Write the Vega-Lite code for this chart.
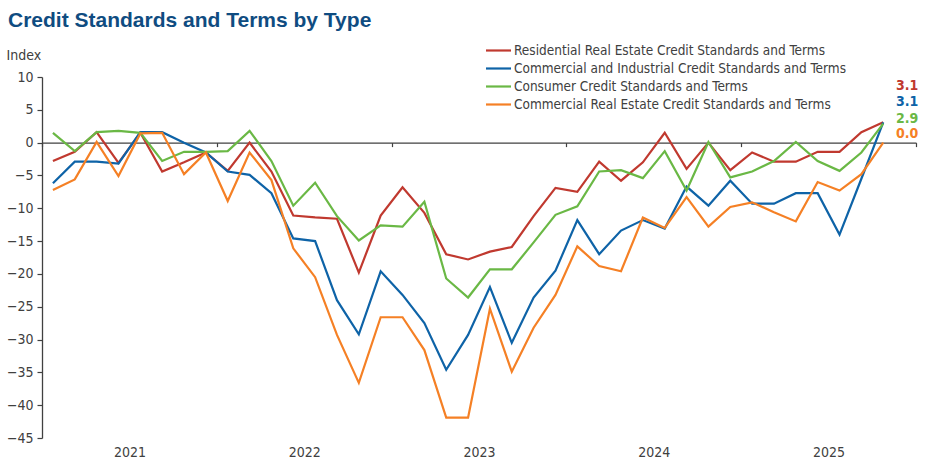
{
  "$schema": "https://vega.github.io/schema/vega-lite/v6.json",
  "autosize": {"type": "none"},
  "width": 874,
  "height": 361,
  "padding": {"left": 42, "top": 77, "right": 25, "bottom": 31},
  "background": "white",
  "config": {
    "font": "Liberation Sans Narrow, DejaVu Sans Condensed, Liberation Sans, sans-serif",
    "view": {"stroke": null}
  },
  "title": {
    "text": "Credit Standards and Terms by Type",
    "anchor": "start",
    "frame": "group",
    "dx": -34,
    "dy": -4,
    "fontSize": 21,
    "fontWeight": "bold",
    "color": "#0F4C81",
    "font": "Liberation Sans Narrow, Liberation Sans, sans-serif"
  },
  "data": {
    "values": [
      {"p": 0, "R": -2.8, "C": -6.2, "N": 1.5, "E": -7.2},
      {"p": 1, "R": -1.4, "C": -2.9, "N": -1.3, "E": -5.6},
      {"p": 2, "R": 1.6, "C": -2.9, "N": 1.6, "E": 0.1},
      {"p": 3, "R": -3.1, "C": -3.2, "N": 1.8, "E": -5.1},
      {"p": 4, "R": 1.5, "C": 1.6, "N": 1.5, "E": 1.4},
      {"p": 5, "R": -4.4, "C": 1.6, "N": -2.8, "E": 1.5},
      {"p": 6, "R": -3.0, "C": 0.0, "N": -1.4, "E": -4.8},
      {"p": 7, "R": -1.5, "C": -1.5, "N": -1.4, "E": -1.5},
      {"p": 8, "R": -4.3, "C": -4.4, "N": -1.3, "E": -8.9},
      {"p": 9, "R": 0.0, "C": -4.9, "N": 1.8, "E": -1.5},
      {"p": 10, "R": -4.4, "C": -7.7, "N": -2.8, "E": -5.7},
      {"p": 11, "R": -11.1, "C": -14.6, "N": -9.6, "E": -16.1},
      {"p": 12, "R": -11.4, "C": -15.0, "N": -6.1, "E": -20.5},
      {"p": 13, "R": -11.6, "C": -24.0, "N": -11.2, "E": -29.3},
      {"p": 14, "R": -19.8, "C": -29.2, "N": -14.9, "E": -36.6},
      {"p": 15, "R": -11.1, "C": -19.6, "N": -12.6, "E": -26.6},
      {"p": 16, "R": -6.8, "C": -23.2, "N": -12.8, "E": -26.6},
      {"p": 17, "R": -10.7, "C": -27.5, "N": -9.0, "E": -31.6},
      {"p": 18, "R": -17.0, "C": -34.6, "N": -20.7, "E": -41.9},
      {"p": 19, "R": -17.8, "C": -29.3, "N": -23.6, "E": -41.9},
      {"p": 20, "R": -16.6, "C": -22.0, "N": -19.3, "E": -25.3},
      {"p": 21, "R": -15.9, "C": -30.5, "N": -19.3, "E": -34.9},
      {"p": 22, "R": -11.2, "C": -23.6, "N": -15.2, "E": -28.2},
      {"p": 23, "R": -6.9, "C": -19.5, "N": -11.0, "E": -23.2},
      {"p": 24, "R": -7.5, "C": -11.8, "N": -9.7, "E": -15.8},
      {"p": 25, "R": -2.9, "C": -17.0, "N": -4.4, "E": -18.8},
      {"p": 26, "R": -5.8, "C": -13.4, "N": -4.2, "E": -19.6},
      {"p": 27, "R": -3.0, "C": -11.8, "N": -5.4, "E": -11.4},
      {"p": 28, "R": 1.5, "C": -13.1, "N": -1.3, "E": -13.0},
      {"p": 29, "R": -4.0, "C": -6.7, "N": -7.3, "E": -8.3},
      {"p": 30, "R": 0.0, "C": -9.6, "N": 0.1, "E": -12.8},
      {"p": 31, "R": -4.2, "C": -5.8, "N": -5.3, "E": -9.8},
      {"p": 32, "R": -1.5, "C": -9.3, "N": -4.4, "E": -9.1},
      {"p": 33, "R": -2.9, "C": -9.3, "N": -2.8, "E": -10.6},
      {"p": 34, "R": -2.9, "C": -7.7, "N": 0.1, "E": -12.0},
      {"p": 35, "R": -1.4, "C": -7.7, "N": -2.8, "E": -6.0},
      {"p": 36, "R": -1.4, "C": -14.0, "N": -4.3, "E": -7.3},
      {"p": 37, "R": 1.6, "C": -5.5, "N": -1.5, "E": -4.8},
      {"p": 38, "R": 3.1, "C": 3.1, "N": 2.9, "E": 0.0}
    ]
  },
  "transform": [{"fold": ["R", "C", "N", "E"], "as": ["s", "v"]}],
  "resolve": {"axis": {"x": "independent", "y": "independent"}},
  "layer": [
    {
      "mark": {"type": "line", "strokeWidth": 2.2, "strokeJoin": "miter"},
      "encoding": {
        "x": {
          "field": "p",
          "type": "quantitative",
          "scale": {"domain": [-0.5, 39.5], "nice": false, "zero": false},
          "axis": {
            "orient": "bottom",
            "offset": -295.4,
            "values": [-0.5, 7.5, 15.5, 23.5, 31.5, 39.5],
            "labels": false,
            "title": null,
            "grid": false,
            "domainColor": "#404040",
            "domainWidth": 1.3,
            "tickColor": "#404040",
            "tickSize": 4,
            "tickWidth": 1.2
          }
        },
        "y": {
          "field": "v",
          "type": "quantitative",
          "scale": {"domain": [-45, 10], "nice": false},
          "axis": {
            "orient": "left",
            "values": [10, 5, 0, -5, -10, -15, -20, -25, -30, -35, -40, -45],
            "labelOverlap": false,
            "grid": false,
            "title": "Index",
            "titleAngle": 0,
            "titleAlign": "left",
            "titleBaseline": "middle",
            "titleX": -36,
            "titleY": -22,
            "titleFontSize": 14,
            "titleFontWeight": "normal",
            "titleColor": "#404040",
            "labelFontSize": 14,
            "labelColor": "#404040",
            "labelPadding": 4,
            "domainColor": "#404040",
            "domainWidth": 1.3,
            "tickColor": "#404040",
            "tickSize": 5,
            "tickWidth": 1.2
          }
        },
        "color": {
          "field": "s",
          "type": "nominal",
          "scale": {
            "domain": ["R", "C", "N", "E"],
            "range": ["#C0392F", "#0E63A7", "#6AB845", "#F58025"]
          },
          "legend": {
            "title": null,
            "orient": "none",
            "legendX": 445,
            "legendY": -38,
            "symbolType": "M-1.25,0H1.25",
            "symbolSize": 400,
            "symbolStrokeWidth": 2.2,
            "labelFontSize": 13.5,
            "labelColor": "#404040",
            "labelOffset": 4,
            "rowPadding": 0,
            "labelLimit": 600,
            "labelExpr": "datum.label == 'R' ? 'Residential Real Estate Credit Standards and Terms' : datum.label == 'C' ? 'Commercial and Industrial Credit Standards and Terms' : datum.label == 'N' ? 'Consumer Credit Standards and Terms' : 'Commercial Real Estate Credit Standards and Terms'"
          }
        }
      }
    },
    {
      "transform": [{"filter": "datum.p == 38 && datum.s == 'R'"}],
      "mark": {"type": "text", "align": "right", "baseline": "middle", "dx": 35, "dy": -36.5, "fontSize": 14, "fontWeight": "bold", "color": "#C0392F"},
      "encoding": {
        "x": {
          "field": "p",
          "type": "quantitative",
          "axis": {
            "orient": "bottom",
            "values": [3.5, 11.5, 19.5, 27.5, 35.5],
            "labelExpr": "'' + (2021 + (datum.value - 3.5) / 8)",
            "domain": false,
            "ticks": false,
            "grid": false,
            "title": null,
            "labelFontSize": 14,
            "labelColor": "#404040",
            "labelPadding": 7
          }
        },
        "y": {"field": "v", "type": "quantitative", "axis": null},
        "text": {"field": "v", "type": "quantitative", "format": ".1f"}
      }
    },
    {
      "transform": [{"filter": "datum.p == 38 && datum.s == 'C'"}],
      "mark": {"type": "text", "align": "right", "baseline": "middle", "dx": 35, "dy": -20.5, "fontSize": 14, "fontWeight": "bold", "color": "#0E63A7"},
      "encoding": {
        "x": {"field": "p", "type": "quantitative", "axis": null},
        "y": {"field": "v", "type": "quantitative", "axis": null},
        "text": {"field": "v", "type": "quantitative", "format": ".1f"}
      }
    },
    {
      "transform": [{"filter": "datum.p == 38 && datum.s == 'N'"}],
      "mark": {"type": "text", "align": "right", "baseline": "middle", "dx": 35, "dy": -5, "fontSize": 14, "fontWeight": "bold", "color": "#6AB845"},
      "encoding": {
        "x": {"field": "p", "type": "quantitative", "axis": null},
        "y": {"field": "v", "type": "quantitative", "axis": null},
        "text": {"field": "v", "type": "quantitative", "format": ".1f"}
      }
    },
    {
      "transform": [{"filter": "datum.p == 38 && datum.s == 'E'"}],
      "mark": {"type": "text", "align": "right", "baseline": "middle", "dx": 35, "dy": -9, "fontSize": 14, "fontWeight": "bold", "color": "#F58025"},
      "encoding": {
        "x": {"field": "p", "type": "quantitative", "axis": null},
        "y": {"field": "v", "type": "quantitative", "axis": null},
        "text": {"field": "v", "type": "quantitative", "format": ".1f"}
      }
    }
  ]
}
